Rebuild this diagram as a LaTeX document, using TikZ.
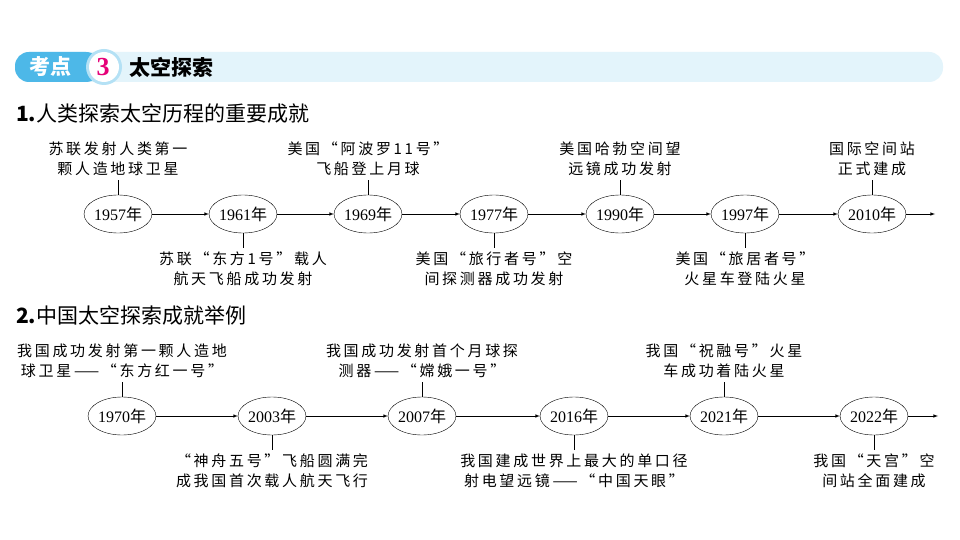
\documentclass[tikz,border=0pt]{standalone}
\usepackage{fontspec}
\usetikzlibrary{shapes.geometric}
\setmainfont{Liberation Serif}
\newfontfamily\cjk[LetterSpace=18]{Noto Sans CJK SC}
\newfontfamily\cjkb{Noto Sans CJK SC}
\begin{document}
\begin{tikzpicture}[x=1pt,y=-1pt,
  yr/.style={draw,ellipse,minimum width=64pt,minimum height=38pt,inner sep=0pt,font=\fontsize{16}{16}\selectfont},
  lab/.style={align=center,font=\cjk\fontsize{15}{20}\selectfont,inner sep=0pt},
  ln/.style={-latex,line width=0.6pt},
  tk/.style={line width=0.6pt}]
\useasboundingbox (0,0) rectangle (960,540);
\fill[fill=white] (0,0) rectangle (960,540);
% header
\fill[fill={rgb,255:red,227;green,244;blue,251}] (15,52) [rounded corners=14pt] rectangle (943,82);
\fill[fill={rgb,255:red,77;green,184;blue,232}] (15,52) [rounded corners=14pt] rectangle (100,82);
\node[font=\cjkb\bfseries\fontsize{21}{21}\selectfont,text=white] (kd) at (50,67) {考点};
\fill[fill={rgb,255:red,180;green,225;blue,245}] (104,67) circle (18);
\fill[white] (104,67) circle (15);
\node[font=\bfseries\fontsize{26}{26}\selectfont,text={rgb,255:red,230;green,0;blue,120}] (n3) at (103,67) {3};
\node[anchor=west,font=\cjkb\bfseries\fontsize{21}{21}\selectfont] (tt) at (126,67) {太空探索};
\node[anchor=west,font=\cjkb\fontsize{21}{21}\selectfont,inner sep=0pt] (h1) at (16,114) {\textbf{1.}人类探索太空历程的重要成就};
\node[anchor=west,font=\cjkb\fontsize{21}{21}\selectfont,inner sep=0pt] (h2) at (16,316) {\textbf{2.}中国太空探索成就举例};
% row 1
\foreach \n/\x/\t in {a/118/1957,b/243/1961,c/368/1969,d/494/1977,e/620/1990,f/745/1997,g/872/2010}
  \node[yr] (\n) at (\x,214) {\t\cjk 年};
\coordinate (end1) at (935,214);
\foreach \p/\q in {a/b,b/c,c/d,d/e,e/f,f/g,g/end1} \draw[ln] (\p) -- (\q);
\foreach \n/\t in {a/{苏联发射人类第一\\颗人造地球卫星},c/{美国“阿波罗11号”\\飞船登上月球},e/{美国哈勃空间望\\远镜成功发射},g/{国际空间站\\正式建成}}{
  \node[lab] (u\n) at ([yshift=36pt]\n.north) {\t};
  \draw[tk] (\n.north) -- ++(0,-15);}
\foreach \n/\t in {b/{苏联“东方1号”载人\\航天飞船成功发射},d/{美国“旅行者号”空\\间探测器成功发射},f/{美国“旅居者号”\\火星车登陆火星}}{
  \node[lab] (l\n) at ([yshift=-36pt]\n.south) {\t};
  \draw[tk] (\n.south) -- ++(0,15);}
% row 2
\foreach \n/\x/\t in {p/122/1970,q/272/2003,r/422/2007,s/574/2016,t/724/2021,u/874/2022}
  \node[yr] (\n) at (\x,416) {\t\cjk 年};
\coordinate (end2) at (938,416);
\foreach \p/\q in {p/q,q/r,r/s,s/t,t/u,u/end2} \draw[ln] (\p) -- (\q);
\foreach \n/\t in {p/{我国成功发射第一颗人造地\\球卫星——“东方红一号”},r/{我国成功发射首个月球探\\测器——“嫦娥一号”},t/{我国“祝融号”火星\\车成功着陆火星}}{
  \node[lab] (u\n) at ([yshift=36pt]\n.north) {\t};
  \draw[tk] (\n.north) -- ++(0,-15);}
\foreach \n/\t in {q/{“神舟五号”飞船圆满完\\成我国首次载人航天飞行},s/{我国建成世界上最大的单口径\\射电望远镜——“中国天眼”},u/{我国“天宫”空\\间站全面建成}}{
  \node[lab] (l\n) at ([yshift=-36pt]\n.south) {\t};
  \draw[tk] (\n.south) -- ++(0,15);}
\end{tikzpicture}
\end{document}
